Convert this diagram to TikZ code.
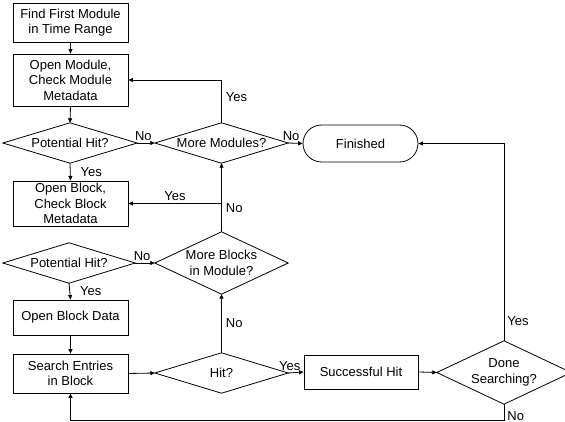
\documentclass[tikz,border=0pt]{standalone}
\usepackage{fontspec}
\setmainfont{Liberation Sans}
\usetikzlibrary{arrows.meta,shapes.misc}
\begin{document}
\begin{tikzpicture}[x=1pt,y=-1pt,
  every node/.style={font=\fontsize{13}{15.5}\selectfont},
  box/.style={draw, line width=0.8pt, rectangle, align=center, inner sep=0pt},
  dia/.style={rectangle, align=center, inner sep=0pt,
    append after command={\pgfextra{\let\dianame\tikzlastnode}
      (\tikzlastnode.west) edge[draw=none] (\tikzlastnode.east)}},
  term/.style={draw, line width=0.8pt, rounded rectangle, align=center, inner sep=0pt},
  arr/.style={draw, line width=0.8pt, -{Triangle[length=4.5pt,width=4pt]}},
  lbl/.style={inner sep=2pt, font=\fontsize{13}{15.5}\selectfont}]
\useasboundingbox (0,0) rectangle (565,422);
\clip (0,0) rectangle (565,422);
\fill[white] (0,0) rectangle (565,422);
% boxes
\node[box, minimum width=115pt, minimum height=39pt] (b1) at (70.5,22.5) {Find First Module\\in Time Range};
\node[box, minimum width=115pt, minimum height=52pt] (b2) at (70.5,80) {Open Module,\\Check Module\\Metadata};
\node[box, minimum width=115pt, minimum height=45pt] (b3) at (70.5,203.5) {Open Block,\\Check Block\\Metadata};
\node[box, minimum width=115pt, minimum height=35pt] (b4) at (70.5,317.5) {Open Block Data};
\node[box, minimum width=115pt, minimum height=39pt] (b5) at (70.5,373.5) {Search Entries\\in Block};
\node[box, minimum width=114pt, minimum height=34pt] (sh) at (361,372) {Successful Hit};
\node[term, minimum width=115pt, minimum height=37pt] (fin) at (360.5,143.5) {Finished};
% decisions
\node[dia, minimum width=134pt, minimum height=40pt] (d1) at (70,143) {Potential Hit?};
\node[dia, minimum width=133pt, minimum height=40pt] (mm) at (221.5,143) {More Modules?};
\node[dia, minimum width=132pt, minimum height=40pt] (d2) at (69,263) {Potential Hit?};
\node[dia, minimum width=133pt, minimum height=62pt] (mb) at (221.5,263) {More Blocks\\in Module?};
\node[dia, minimum width=133pt, minimum height=40pt] (hit) at (221.5,373) {Hit?};
\node[dia, minimum width=134pt, minimum height=63pt] (ds) at (504,372.5) {Done\\Searching?};
\foreach \n in {d1,mm,d2,mb,hit,ds}
  \draw[line width=0.8pt] (\n.west) -- (\n.north) -- (\n.east) -- (\n.south) -- cycle;
% connectors
\draw[arr] (b1.south) -- (b2.north);
\draw[arr] (b2.south) -- (d1.north);
\draw[arr] (d1.east) -- node[lbl, above, pos=0.35] {No} (mm.west);
\draw[arr] (mm.north) |- node[lbl, right, pos=0.3, xshift=2pt] {Yes} (b2.east);
\draw[arr] (mm.east) -- node[lbl, above, pos=0.2] {No} (fin.west);
\draw[arr] (d1.south) -- node[lbl, right, xshift=8pt] {Yes} (b3.north);
\draw[arr] (mb.north) -- node[lbl, right, pos=0.35, xshift=2pt] {No} (mm.south);
\draw[arr] (mb.north) |- node[lbl, above, pos=0.75] {Yes} (b3.east);
\draw[arr] (d2.east) -- node[lbl, above, pos=0.35] {No} (mb.west);
\draw[arr] (d2.south) -- node[lbl, right, xshift=8pt] {Yes} (b4.north);
\draw[arr] (b4.south) -- (b5.north);
\draw[arr] (b5.east) -- (hit.west);
\draw[arr] (hit.north) -- node[lbl, right, pos=0.5, xshift=2pt] {No} (mb.south);
\draw[arr] (hit.east) -- node[lbl, above, pos=0.1] {Yes} (sh.west);
\draw[arr] (sh.east) -- (ds.west);
\draw[arr] (ds.north) |- node[lbl, right, pos=0.05, xshift=1pt] {Yes} (fin.east);
\coordinate (lp) at (504,420.5);
\draw[arr] (ds.south) -- node[lbl, right, pos=0.7, xshift=1pt] {No} (lp) -| (b5.south);
\end{tikzpicture}
\end{document}
